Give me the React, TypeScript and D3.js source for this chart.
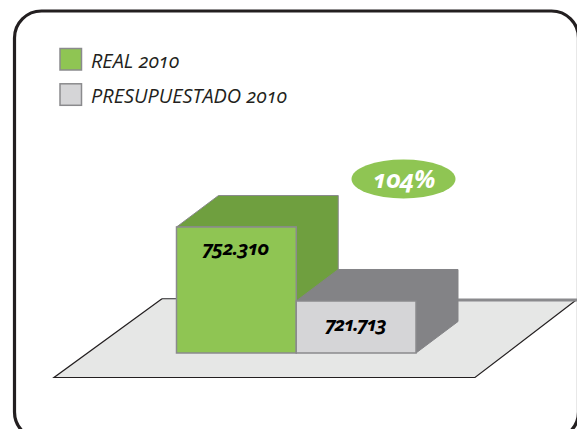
import React from "react";
import * as d3 from "d3";

const categories = ["REAL 2010", "PRESUPUESTADO 2010"];
const values = [752310, 721713];
const valueLabels = ["752.310", "721.713"];
const faceColors = ["#8fc553", "#d5d5d7"];
const topColors = ["#6f9f3f", "#838386"];
const badgeLabel = "104%";
const baseValue = 700212;

const font = "'Open Sans', sans-serif";
const onum = { fontFeatureSettings: "'onum'" };

export default function App() {
  const x = d3.scaleBand<string>().domain(categories).range([176.5, 416]).padding(0);
  const y = d3.scaleLinear().domain([baseValue, values[0]]).range([353, 227]);
  const dx = 42;
  const dy = -31.5;
  const line = d3.line();
  const floor = line([[162, 298.7], [575.5, 300.5], [475, 377.5], [54, 377.5]]) + "Z";

  return (
    <svg width={577} height={429} style={{ position: "fixed", left: 0, top: 0, background: "#fff" }}>
      <rect x={14.5} y={11} width={564} height={428} rx={27} fill="#fff" stroke="#231f20" strokeWidth={3.2} />
      <path d={floor} fill="#e6e7e6" stroke="none" />
      <path d={line([[575.5, 300.5], [475, 377.5], [54, 377.5], [162, 298.7]]) as string} fill="none" stroke="#231f20" strokeWidth={1.2} strokeLinejoin="miter" />
      <path d="M162 298.7H178" stroke="#4a4a4c" strokeWidth={1.2} fill="none" />
      <path d="M338 300H577" stroke="#8a8a8d" strokeWidth={3.2} fill="none" />
      {categories.map((c, i) => {
        const x0 = x(c)!;
        const x1 = x0 + x.bandwidth();
        const yT = y(values[i]);
        const yB = y(baseValue);
        const side = line([[x0, yT], [x0 + dx, yT + dy], [x1 + dx, yT + dy], [x1 + dx, yB + dy], [x1, yB], [x1, yT]]) + "Z";
        return (
          <path key={c + "s"} d={side} fill={topColors[i]} stroke={i === 0 ? "#8a8a8d" : "#838386"} strokeWidth={1} strokeLinejoin="round" />
        );
      })}
      {categories.map((c, i) => (
        <rect key={c} x={x(c)!} y={y(values[i])} width={x.bandwidth()} height={y(baseValue) - y(values[i])} fill={faceColors[i]} stroke="#8a8a8d" strokeWidth={1.5} />
      ))}
      <text x={235} y={255} textAnchor="middle" fontFamily={font} fontStyle="italic" fontWeight={700} fontSize={20} letterSpacing={-0.9} fill="#000" style={onum}>{valueLabels[0]}</text>
      <text x={355} y={331} textAnchor="middle" fontFamily={font} fontStyle="italic" fontWeight={700} fontSize={20} letterSpacing={-1.7} fill="#000" style={onum}>{valueLabels[1]}</text>
      <ellipse cx={403.5} cy={179} rx={52} ry={19.5} fill="#8fc553" />
      <text x={404} y={188} textAnchor="middle" fontFamily={font} fontStyle="italic" fontWeight={700} fontSize={25} fill="#fff" style={onum}>{badgeLabel}</text>
      {categories.map((c, i) => (
        <g key={c + "l"}>
          <rect x={60} y={48.5 + i * 35.3} width={21.5} height={21.5} fill={faceColors[i]} stroke="#8a8a8d" strokeWidth={1.5} />
          <text x={91} y={68 + i * 35} fontFamily={font} fontStyle="italic" fontSize={19.9} fill="#231f20" style={onum}>{c}</text>
        </g>
      ))}
    </svg>
  );
}
